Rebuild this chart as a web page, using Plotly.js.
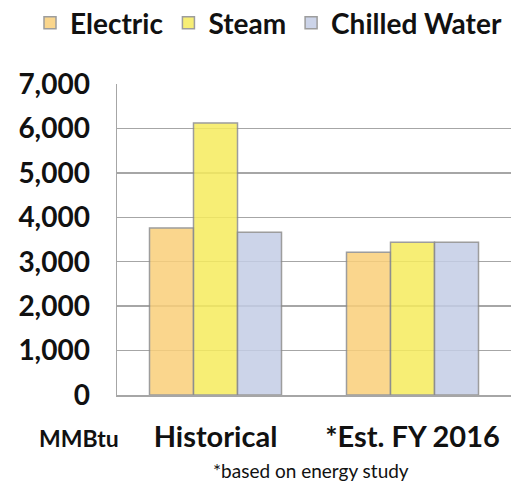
<!DOCTYPE html>
<html>
<head>
<meta charset="utf-8">
<script src="https://cdn.plot.ly/plotly-3.0.1.min.js"></script>
<style>html,body{margin:0;padding:0;background:#fff;}#chart{width:522px;height:482px;}</style>
</head>
<body>
<div id="chart"></div>
<script>
var categories = ["Historical", "*Est. FY 2016"];
var seriesNames = ["Electric", "Steam", "Chilled Water"];
var electric = [3760, 3215];
var steam = [6125, 3440];
var chilledWater = [3665, 3440];
var yTickValues = [0, 1000, 2000, 3000, 4000, 5000, 6000, 7000];
var yTickLabels = ["0", "1,000", "2,000", "3,000", "4,000", "5,000", "6,000", "7,000"];

var colors = ["rgb(250,208,122)", "rgb(246,236,94)", "rgb(196,205,230)"];
var values = [electric, steam, chilledWater];

var traces = seriesNames.map(function (name, i) {
  return {
    type: "bar",
    name: name,
    x: categories,
    y: values[i],
    opacity: 0.85,
    marker: { color: colors[i], line: { color: "#8c8c8c", width: 1.5 } },
    hoverinfo: "x+y+name"
  };
});

var FONT = "Lato, 'Open Sans', sans-serif";
var ML = 117, MR = 11, MT = 84, MB = 87;
var PW = 522 - ML - MR, PH = 482 - MT - MB;

var layout = {
  width: 522,
  height: 482,
  margin: { l: ML, r: MR, t: MT, b: MB, pad: 0, autoexpand: false },
  paper_bgcolor: "#ffffff",
  plot_bgcolor: "#ffffff",
  barmode: "group",
  bargap: 0.33,
  bargroupgap: 0,
  showlegend: true,
  legend: {
    orientation: "h",
    xref: "paper", yref: "paper",
    x: (30 - ML) / PW, y: (MT + PH - 23) / PH, xanchor: "left", yanchor: "middle",
    font: { family: FONT, size: 28, color: "#111111", weight: 700 },
    bgcolor: "rgba(0,0,0,0)",
    traceorder: "normal"
  },
  xaxis: {
    type: "category",
    showgrid: false,
    showline: true,
    linecolor: "#a6a6a6",
    linewidth: 1.5,
    ticks: "",
    ticklabelstandoff: 16,
    tickfont: { family: FONT, size: 29, color: "#111111", weight: 700 },
    zeroline: false,
    fixedrange: true
  },
  yaxis: {
    range: [0, 7000],
    tickvals: yTickValues,
    ticktext: yTickLabels,
    showgrid: true,
    gridcolor: "#a6a6a6",
    gridwidth: 1.5,
    showline: true,
    linecolor: "#a6a6a6",
    linewidth: 1.5,
    zeroline: false,
    ticks: "",
    ticklabelstandoff: 20,
    tickfont: { family: FONT, size: 28, color: "#111111", weight: 700 },
    fixedrange: true
  },
  annotations: [
    {
      text: "MMBtu",
      xref: "paper", yref: "paper",
      x: (79 - ML) / PW, y: (MT + PH - 438) / PH, xanchor: "center", yanchor: "middle",
      showarrow: false,
      font: { family: FONT, size: 23, color: "#111111", weight: 700 }
    },
    {
      text: "*based on energy study",
      xref: "paper", yref: "paper",
      x: (311 - ML) / PW, y: (MT + PH - 470) / PH, xanchor: "center", yanchor: "middle",
      showarrow: false,
      font: { family: FONT, size: 19, color: "#111111" }
    }
  ]
};

Plotly.newPlot("chart", traces, layout, { displayModeBar: false, staticPlot: true });
</script>
</body>
</html>
